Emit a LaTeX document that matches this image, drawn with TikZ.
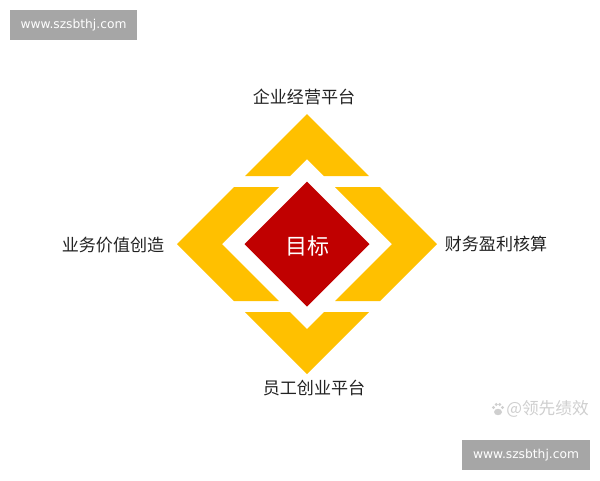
\documentclass[tikz,border=0pt]{standalone}
\usepackage{fontspec}
\newfontfamily\cjk{Noto Sans CJK SC}
\newfontfamily\urlfont{DejaVu Sans}
\definecolor{gold}{HTML}{FFC000}
\definecolor{darkred}{HTML}{C00000}
\definecolor{boxgray}{HTML}{A6A6A6}
\definecolor{textdark}{HTML}{222222}
\definecolor{wmgray}{HTML}{CFCFCF}
\tikzset{
  chevron/.style={fill=gold, draw=none},
  goalshape/.style={fill=darkred, draw=none},
  label/.style={font=\cjk\fontsize{12.8}{14}\selectfont, text=textdark, inner sep=0pt},
  urlbox/.style={fill=boxgray, text=white, font=\urlfont\fontsize{9.2}{11}\selectfont,
    minimum width=95.5pt, minimum height=22.5pt, inner sep=0pt},
}
\begin{document}
\begin{tikzpicture}[x=0.75pt,y=-0.75pt]
\useasboundingbox (0,0) rectangle (600,480);
\fill[white] (0,0) rectangle (600,480);
% watermark boxes
\node[urlbox] (wm1) at (73.5,25) {www.szsbthj.com};
\node[urlbox] (wm2) at (526,455) {www.szsbthj.com};
% diamond
\begin{scope}[shift={(307,244)}]
  \coordinate (c) at (0,0);
  % top chevron
  \fill[chevron] (-62,-68) -- (0,-130) -- (62,-68) -- (17,-68) -- (0,-85) -- (-17,-68) -- cycle;
  % left chevron
  \fill[chevron] (-73,-57) -- (-28,-57) -- (-85,0) -- (-28,57) -- (-73,57) -- (-130,0) -- cycle;
  % right chevron
  \fill[chevron] (73,-57) -- (28,-57) -- (85,0) -- (28,57) -- (73,57) -- (130,0) -- cycle;
  % bottom chevron
  \fill[chevron] (-62,68) -- (0,130) -- (62,68) -- (17,68) -- (0,85) -- (-17,68) -- cycle;
  % red goal diamond
  \fill[goalshape] (0,-62.5) -- (62.5,0) -- (0,62.5) -- (-62.5,0) -- cycle;
  \node[font=\cjk\fontsize{16.5}{18}\selectfont, text=white, inner sep=0pt] (goal) at (0,2) {目标};
\end{scope}
% labels
\node[label] (top) at (304,97) {企业经营平台};
\node[label] (bottom) at (314,388) {员工创业平台};
\node[label] (left) at (113,245) {业务价值创造};
\node[label] (right) at (496,243.5) {财务盈利核算};
% faint watermark
\begin{scope}[shift={(498,409)}, wmgray]
  \fill (-4.5,-1.5) circle (1.6);
  \fill (-1.7,-4.5) circle (1.6);
  \fill (1.7,-4.5) circle (1.6);
  \fill (4.5,-1.5) circle (1.6);
  \fill (0,3) ellipse (4 and 3.2);
\end{scope}
\node[font=\cjk\fontsize{12.5}{14}\selectfont, text=wmgray, inner sep=0pt, anchor=west] (wmtext) at (506,409) {@领先绩效};
\end{tikzpicture}
\end{document}
